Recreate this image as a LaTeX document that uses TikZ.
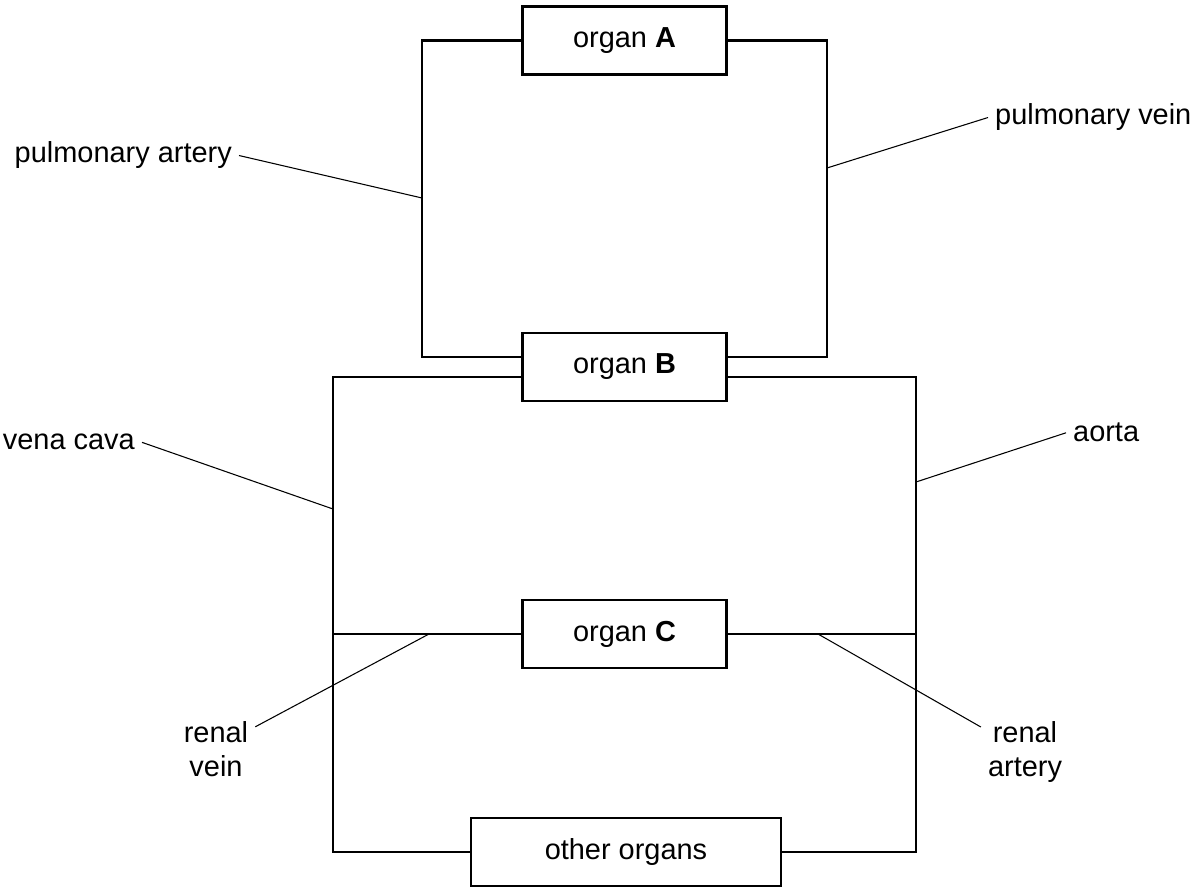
\documentclass[tikz,border=0pt]{standalone}
\usepackage{fontspec}
\setmainfont{Liberation Sans}
\tikzset{every picture/.style={line width=0.75pt}}
\tikzset{
  organ/.style={draw, line width=1.6pt, fill=white, inner sep=0pt, minimum width=153pt, minimum height=51pt, font=\fontsize{21.7pt}{25.5pt}\selectfont},
  lbl/.style={inner sep=5pt, font=\fontsize{21.7pt}{25.5pt}\selectfont},
  pipe/.style={line width=1.6pt},
  leader/.style={line width=0.8pt}
}

\begin{document}
\begin{tikzpicture}[x=0.75pt,y=0.75pt,yscale=-1,xscale=1]
\useasboundingbox (0,0) rectangle (1196,887);

% Organ boxes
\node [organ] (orgA) at (624.5,40.5) {organ \textbf{A}};
\node [organ] (orgB) at (624.5,367) {organ \textbf{B}};
\node [organ] (orgC) at (624.5,634) {organ \textbf{C}};
\node [organ, minimum width=232.5pt] (other) at (626,852) {other organs};

% Points where the leaders meet the vessels
\coordinate (paJ) at (422,198);
\coordinate (pvJ) at (827,168);
\coordinate (vcJ) at (333,509);
\coordinate (aoJ) at (916,482);
\coordinate (rvJ) at (429,634);
\coordinate (raJ) at (818,634);

%Straight Lines: lung circuit
\draw [pipe] (orgA.west) -| (paJ) |- ([yshift=-7.5pt]orgB.west) ;
\draw [pipe] (orgA.east) -| (pvJ) |- ([yshift=-7.5pt]orgB.east) ;
%Straight Lines: body circuit
\draw [pipe] ([yshift=7.5pt]orgB.west) -| (vcJ) |- (other.west) ;
\draw [pipe] ([yshift=7.5pt]orgB.east) -| (aoJ) |- (other.east) ;
%Straight Lines: kidney branch
\draw [pipe] (orgC.west -| vcJ) -- (orgC.west) ;
\draw [pipe] (orgC.east) -- (orgC.east -| aoJ) ;

% Text Node
\node [lbl, anchor=base east] (pa) at (239,163) {pulmonary artery};
% Text Node
\node [lbl, anchor=base west] (pv) at (988,125) {pulmonary vein};
% Text Node
\node [lbl, anchor=base east] (vc) at (142,450) {vena cava};
% Text Node
\node [lbl, anchor=base west] (ao) at (1066,442) {aorta};
% Text Node
\node [lbl, align=center] (rv) at (216,749.5) {renal\\vein};
% Text Node
\node [lbl, align=center] (ra) at (1025,752.5) {renal\\artery};

%Straight Lines: leaders
\draw [leader] (pa.east) -- (paJ) ;
\draw [leader] (pv.west) -- (pvJ) ;
\draw [leader] (vc.east) -- (vcJ) ;
\draw [leader] (ao.west) -- (aoJ) ;
\draw [leader] (rv.30) -- (rvJ) ;
\draw [leader] (ra.150) -- (raJ) ;

\end{tikzpicture}
\end{document}
